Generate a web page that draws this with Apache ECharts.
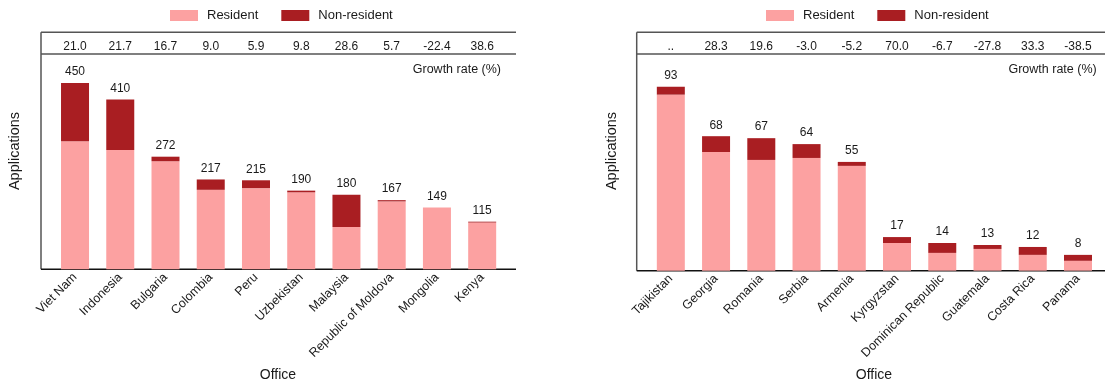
<!DOCTYPE html>
<html>
<head>
<meta charset="utf-8">
<script src="https://cdn.jsdelivr.net/npm/echarts@6/dist/echarts.min.js"></script>
<style>
html,body{margin:0;padding:0;background:#fff;}
#chart{width:1105px;height:388px;}
</style>
</head>
<body>
<div id="chart"></div>
<script>
const leftOffices = ['Viet Nam','Indonesia','Bulgaria','Colombia','Peru','Uzbekistan','Malaysia','Republic of Moldova','Mongolia','Kenya'];
const leftResident = [309, 288, 261, 192, 196, 186, 102, 164, 149, 113];
const leftNonResident = [141, 122, 11, 25, 19, 4, 78, 3, 0, 2];
const leftGrowth = ['21.0','21.7','16.7','9.0','5.9','9.8','28.6','5.7','-22.4','38.6'];

const rightOffices = ['Tajikistan','Georgia','Romania','Serbia','Armenia','Kyrgyzstan','Dominican Republic','Guatemala','Costa Rica','Panama'];
const rightResident = [89, 60, 56, 57, 53, 14, 9, 11, 8, 5];
const rightNonResident = [4, 8, 11, 7, 2, 3, 5, 2, 4, 3];
const rightGrowth = ['..','28.3','19.6','-3.0','-5.2','70.0','-6.7','-27.8','33.3','-38.5'];

const FONT = "'Liberation Sans',Arial,sans-serif";
const TXT = '#1a1a1a';
const RES_COLOR = '#FCA1A1';
const NONRES_COLOR = '#A91E22';
const FRAME = '#555555';

const leftTotals = leftResident.map((v, i) => v + leftNonResident[i]);
const rightTotals = rightResident.map((v, i) => v + rightNonResident[i]);

const chart = echarts.init(document.getElementById('chart'), null, {renderer: 'canvas'});

function catAxis(grid, data) {
  return {
    type: 'category', gridIndex: grid, data: data, position: 'bottom',
    axisLine: {show: false}, axisTick: {show: false},
    axisLabel: {rotate: 45, margin: 6, fontSize: 12.5, fontFamily: FONT, color: TXT, interval: 0}
  };
}
function growthAxis(grid, data, margin) {
  return {
    type: 'category', gridIndex: grid, data: data, position: 'top',
    axisLine: {show: false}, axisTick: {show: false},
    axisLabel: {margin: margin, fontSize: 12, fontFamily: FONT, color: TXT, interval: 0}
  };
}
function valAxis(grid, max) {
  return {
    type: 'value', gridIndex: grid, min: 0, max: max,
    axisLine: {show: false}, axisTick: {show: false}, axisLabel: {show: false}, splitLine: {show: false}
  };
}
function frameLines(x0, x1, yTop, ySep, yBot) {
  return [
    {type: 'line', shape: {x1: x0, y1: yTop, x2: x1, y2: yTop}, style: {stroke: FRAME, lineWidth: 1.5}},
    {type: 'line', shape: {x1: x0, y1: ySep, x2: x1, y2: ySep}, style: {stroke: FRAME, lineWidth: 1.5}},
    {type: 'line', shape: {x1: x0, y1: yTop, x2: x0, y2: yBot}, style: {stroke: FRAME, lineWidth: 1.5}},
    {type: 'line', shape: {x1: x0, y1: yBot, x2: x1, y2: yBot}, style: {stroke: '#111', lineWidth: 1.5}}
  ];
}
function txt(x, y, text, size, opts) {
  return {type: 'text', x: x, y: y, rotation: (opts && opts.rotation) || 0,
    style: {text: text, fill: TXT, font: size + 'px ' + FONT, align: (opts && opts.align) || 'center', verticalAlign: 'middle'}};
}

const legendBase = {top: 4, itemWidth: 28, itemHeight: 11, itemGap: 23, icon: 'rect',
  data: ['Resident', 'Non-resident'], textStyle: {fontSize: 13, fontFamily: FONT, color: TXT, padding: [6, 0, 0, 4]}};

const option = {
  backgroundColor: '#fff',
  animation: false,
  legend: [
    Object.assign({left: 165}, legendBase),
    Object.assign({left: 761}, legendBase)
  ],
  grid: [
    {left: 52.4, width: 452.4, top: 62.3, height: 207},
    {left: 648.2, width: 452.4, top: 72.9, height: 197.8}
  ],
  xAxis: [catAxis(0, leftOffices), growthAxis(0, leftGrowth, 10), catAxis(1, rightOffices), growthAxis(1, rightGrowth, 20.6)],
  yAxis: [valAxis(0, 500), valAxis(1, 100)],
  series: [
    {name: 'Resident', type: 'bar', stack: 'L', xAxisIndex: 0, yAxisIndex: 0, data: leftResident, barWidth: 28,
     itemStyle: {color: RES_COLOR}},
    {name: 'Non-resident', type: 'bar', stack: 'L', xAxisIndex: 0, yAxisIndex: 0, data: leftNonResident, barWidth: 28,
     itemStyle: {color: NONRES_COLOR},
     label: {show: true, position: 'top', distance: 5, fontSize: 12, fontFamily: FONT, color: TXT,
             formatter: p => String(leftTotals[p.dataIndex])}},
    {name: 'Resident', type: 'bar', stack: 'R', xAxisIndex: 2, yAxisIndex: 1, data: rightResident, barWidth: 28,
     itemStyle: {color: RES_COLOR}},
    {name: 'Non-resident', type: 'bar', stack: 'R', xAxisIndex: 2, yAxisIndex: 1, data: rightNonResident, barWidth: 28,
     itemStyle: {color: NONRES_COLOR},
     label: {show: true, position: 'top', distance: 5, fontSize: 12, fontFamily: FONT, color: TXT,
             formatter: p => String(rightTotals[p.dataIndex])}}
  ],
  graphic: [].concat(
    frameLines(41, 516, 32.3, 54, 269.3),
    frameLines(636.7, 1105, 32.3, 54, 270.7),
    [
      txt(501, 70, 'Growth rate (%)', 12.5, {align: 'right'}),
      txt(1096.7, 70, 'Growth rate (%)', 12.5, {align: 'right'}),
      txt(278, 375, 'Office', 14),
      txt(874, 375, 'Office', 14),
      txt(15, 151, 'Applications', 14.5, {rotation: Math.PI / 2}),
      txt(612, 151, 'Applications', 14.5, {rotation: Math.PI / 2})
    ]
  )
};
chart.setOption(option);
</script>
</body>
</html>
